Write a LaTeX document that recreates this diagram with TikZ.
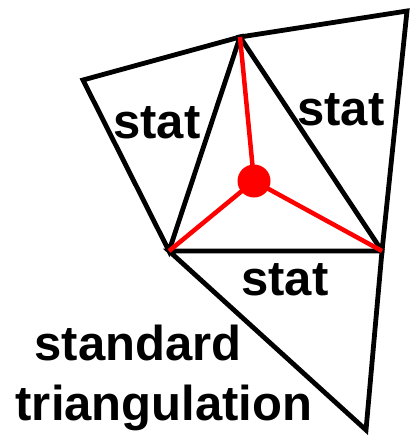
\documentclass[tikz,border=0pt]{standalone}
\usepackage{fontspec}
\setmainfont{Liberation Sans}
\usetikzlibrary{positioning}

\begin{document}
\begin{tikzpicture}[
    x=1pt, y=-1pt,
    edge/.style={draw=black, line width=4.8pt},
    spoke/.style={draw=red, line width=4.5pt},
    label/.style={font=\fontsize{49}{60}\selectfont\bfseries, inner sep=0pt, anchor=base},
    centre/.style={circle, fill=red, inner sep=0pt, minimum size=33pt}
]
    \useasboundingbox (0,0) rectangle (412,441);

    \coordinate (L) at (83,80);
    \coordinate (A) at (240,37);
    \coordinate (R) at (407,11);
    \coordinate (B) at (169,251);
    \coordinate (C) at (382,251);
    \coordinate (D) at (366,430);
    \node[centre] (M) at (254,181) {};

    \draw[edge] (L) -- (A) -- (B) -- cycle;
    \draw[edge] (A) -- (R) -- (C) -- cycle;
    \draw[edge] (B) -- (C) -- (D) -- cycle;

    \draw[spoke] (M.center) -- (A);
    \draw[spoke] (M.center) -- (B);
    \draw[spoke] (M.center) -- (C);

    \node[label] (s1) at (157,138) {stat};
    \node[label] (s2) at (341,125) {stat};
    \node[label] (s3) at (285,295) {stat};
    \node[label] (std) at (138,360) {standard};
    \node[label] (tri) at (164,420) {triangulation};
\end{tikzpicture}
\end{document}
